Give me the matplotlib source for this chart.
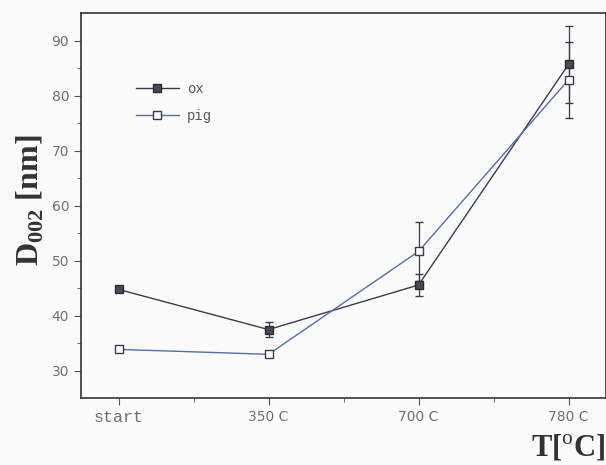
import matplotlib
matplotlib.use('Agg')
import matplotlib.pyplot as plt
import numpy as np

# values
categories = ['start', '350 C', '700 C', '780 C']
ox = [44.8, 37.5, 45.6, 85.7]
ox_err = [0.5, 1.3, 2.0, 7.0]
pig = [33.9, 33.0, 51.7, 82.9]
pig_err = [0.5, 0.5, 5.3, 6.9]

ox_color = '#3c3a4c'
pig_color = '#4f6fae'
tick_color = '#707070'

plt.rcParams['mathtext.fontset'] = 'custom'
plt.rcParams['mathtext.bf'] = 'Liberation Serif:bold'
plt.rcParams['mathtext.rm'] = 'Liberation Serif'

fig = plt.figure(figsize=(6.06, 4.65), dpi=100, facecolor='#fbfbfb')
ax = fig.add_axes([0.1337, 0.1434, 0.8663, 0.828])
ax.set_facecolor('#fbfbfb')

x = np.arange(len(categories))
ax.errorbar(x, ox, yerr=ox_err, color=ox_color, lw=1.0, fmt='none',
            capsize=3, elinewidth=0.9)
ax.errorbar(x, pig, yerr=pig_err, fmt='none', capsize=3, elinewidth=0.9,
            ecolor='#3a3a45')
ax.plot(x, ox, color=ox_color, lw=1.0, marker='s', ms=6,
        mfc='#4a4a55', mec='#2a2a35', label='ox')
ax.plot(x, pig, color=pig_color, lw=1.0, marker='s', ms=6,
        mfc='white', mec='#3a3a45', label='pig')

ax.set_xlim(-0.25, 3.25)
ax.set_ylim(25, 95)
ax.set_xticks(x)
ax.set_xticklabels(categories)
ax.set_xticks([0.5, 1.5, 2.5], minor=True)
ax.set_yticks([30, 40, 50, 60, 70, 80, 90])
ax.set_yticks([35, 45, 55, 65, 75, 85], minor=True)
ax.tick_params(which='major', direction='out', length=5, color='#555',
               labelcolor=tick_color, labelsize=10)
ax.tick_params(which='minor', direction='out', length=3, color='#555')
ax.get_xticklabels()[0].set_family('Liberation Mono')
ax.get_xticklabels()[0].set_fontsize(12)

for s in ax.spines.values():
    s.set_color('#333')
    s.set_linewidth(1.2)

leg = ax.legend(loc='upper left', bbox_to_anchor=(0.08, 0.855), frameon=False,
                handlelength=3.1, handletextpad=0.6, labelspacing=0.95,
                prop={'family': 'Liberation Mono', 'size': 10})
for t in leg.get_texts():
    t.set_color('#555')

fig.text(0.05, 0.57, r'D$_{\mathbf{002}}$ [nm]', rotation=90, ha='center',
         va='center', family='Liberation Serif', fontweight='bold', fontsize=23,
         color='#333')
fig.text(0.998, 0.004, r'T[$^{\mathrm{o}}$C]', ha='right', va='bottom',
         family='Liberation Serif', fontweight='bold', fontsize=22,
         color='#333')

fig.savefig('out.png', dpi=100, facecolor=fig.get_facecolor())
